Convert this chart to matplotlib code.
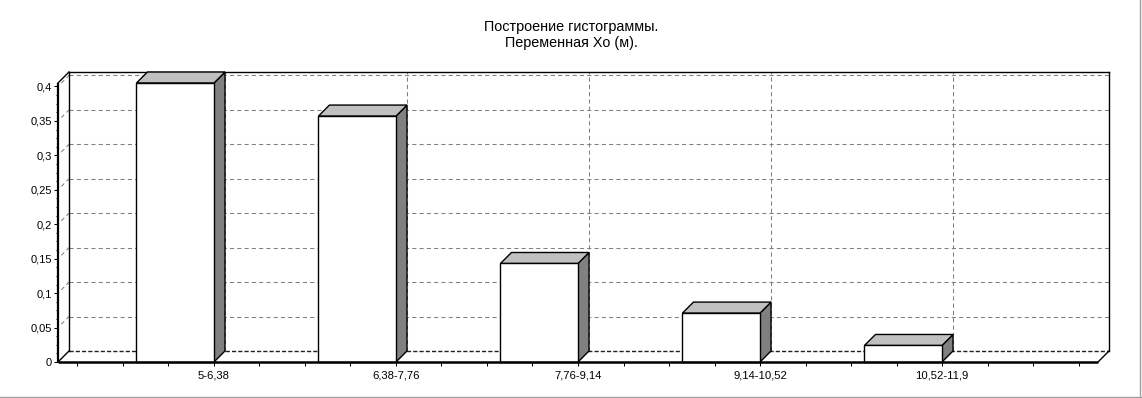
import matplotlib
matplotlib.use('Agg')
import matplotlib.pyplot as plt
from matplotlib.patches import Polygon, Rectangle
from matplotlib.lines import Line2D
from matplotlib.ticker import MultipleLocator

plt.rcParams['font.family'] = ['Liberation Sans', 'DejaVu Sans']

# ---- data ----
categories = ['5-6,38', '6,38-7,76', '7,76-9,14', '9,14-10,52', '10,52-11,9']
freqs = [0.405, 0.357, 0.143, 0.071, 0.024]
y_ticks = [0, 0.05, 0.1, 0.15, 0.2, 0.25, 0.3, 0.35, 0.4]
y_labels = ['0', '0,05', '0,1', '0,15', '0,2', '0,25', '0,3', '0,35', '0,4']
title_lines = ['Построение гистограммы.', 'Переменная Хо (м).']

W, H = 1142, 398
fig = plt.figure(figsize=(W / 100, H / 100), dpi=100)
fig.patch.set_facecolor('white')

ax_l, ax_r, ax_b, ax_t = 58, 1098, 362, 83   # pixel frame of front plane
ax = fig.add_axes([ax_l / W, (H - ax_b) / H, (ax_r - ax_l) / W, (ax_b - ax_t) / H])
xmin, xmax = -0.857, 4.857
ymin, ymax = 0, 0.405
ax.set_xlim(xmin, xmax)
ax.set_ylim(ymin, ymax)
ax.set_facecolor('none')
for s in ax.spines.values():
    s.set_visible(False)

# depth offset (11 px right, 11 px up) in data units
depth_px = 11
dx = depth_px * (xmax - xmin) / (ax_r - ax_l)
dy = depth_px * (ymax - ymin) / (ax_b - ax_t)

grid_kw = dict(color='#808080', lw=0.75, ls=(0, (4, 3)), clip_on=False, zorder=1)
edge_kw = dict(color='black', lw=1.0, clip_on=False, zorder=2)

# back wall grid (horizontal)
for t in y_ticks[1:]:
    ax.plot([xmin + dx, xmax + dx], [t + dy, t + dy], **grid_kw)
    ax.plot([xmin + 0.3 * dx, xmin + dx], [t + 0.3 * dy, t + dy], **grid_kw)
# back wall grid (vertical at categories)
for i in range(len(categories)):
    ax.plot([i + dx, i + dx], [dy, ymax + dy], **grid_kw)
# back floor edge (dashed dark)
ax.plot([xmin + dx, xmax + dx], [dy, dy], color='#202020', lw=1.0, ls=(0, (3, 1.5)),
        clip_on=False, zorder=1.5)
# back wall frame
ax.plot([xmin + dx, xmin + dx], [dy, ymax + dy], **edge_kw)
ax.plot([xmin + dx, xmax + dx], [ymax + dy, ymax + dy], **edge_kw)
ax.plot([xmax + dx, xmax + dx], [dy, ymax + dy], **edge_kw)
# diagonals
ax.plot([xmin, xmin + dx], [0, dy], **edge_kw)
ax.plot([xmax, xmax + dx], [0, dy], **edge_kw)
ax.plot([xmin, xmin + dx], [ymax, ymax + dy], **edge_kw)

# bars (3D look)
bw = 0.426
for i, v in enumerate(freqs):
    x0, x1 = i - bw, i
    side = Polygon([(x1, 0), (x1 + dx, dy), (x1 + dx, v + dy), (x1, v)],
                   closed=True, fc='#808080', ec='black', lw=1.0, clip_on=False, zorder=4)
    top = Polygon([(x0, v), (x1, v), (x1 + dx, v + dy), (x0 + dx, v + dy)],
                  closed=True, fc='#c0c0c0', ec='black', lw=1.0, clip_on=False, zorder=4)
    front = Rectangle((x0, 0), bw, v, fc='white', ec='black', lw=1.0, clip_on=False, zorder=5)
    ax.add_patch(side)
    ax.add_patch(top)
    ax.add_patch(front)

# front axes lines
ax.plot([xmin, xmin], [0, ymax], color='black', lw=1.6, clip_on=False, zorder=6,
        solid_capstyle='butt')
ax.plot([xmin, xmax], [0, 0], color='black', lw=1.8, clip_on=False, zorder=6,
        solid_capstyle='butt')

# ticks
ax.set_yticks(y_ticks)
ax.set_yticklabels(y_labels)
ax.yaxis.set_minor_locator(MultipleLocator(0.0125))
ax.set_xticks(range(len(categories)))
ax.set_xticklabels(categories)
ax.xaxis.set_minor_locator(MultipleLocator(0.25))
ax.tick_params(axis='y', which='major', direction='out', length=3.2, width=0.75,
               pad=1.2, labelsize=8, colors='black')
ax.tick_params(axis='y', which='minor', direction='out', length=1.5, width=0.75)
ax.tick_params(axis='x', which='both', direction='out', length=3.0, width=0.75,
               pad=3.3, labelsize=8.1, colors='black')

# title
fig.text(0.5, 1 - 26.5 / H, title_lines[0], ha='center', va='center', fontsize=10.4)
fig.text(0.5, 1 - 43.5 / H, title_lines[1], ha='center', va='center', fontsize=10.4)

# panel bevel (right & bottom)
fig.add_artist(Line2D([(W - 2.5) / W, (W - 2.5) / W], [0, 1], transform=fig.transFigure,
                      color='#a0a0a0', lw=1.0))
fig.add_artist(Line2D([0, 1], [1.5 / H, 1.5 / H], transform=fig.transFigure,
                      color='#a0a0a0', lw=1.0))

fig.savefig('out.png', dpi=100, facecolor='white')
